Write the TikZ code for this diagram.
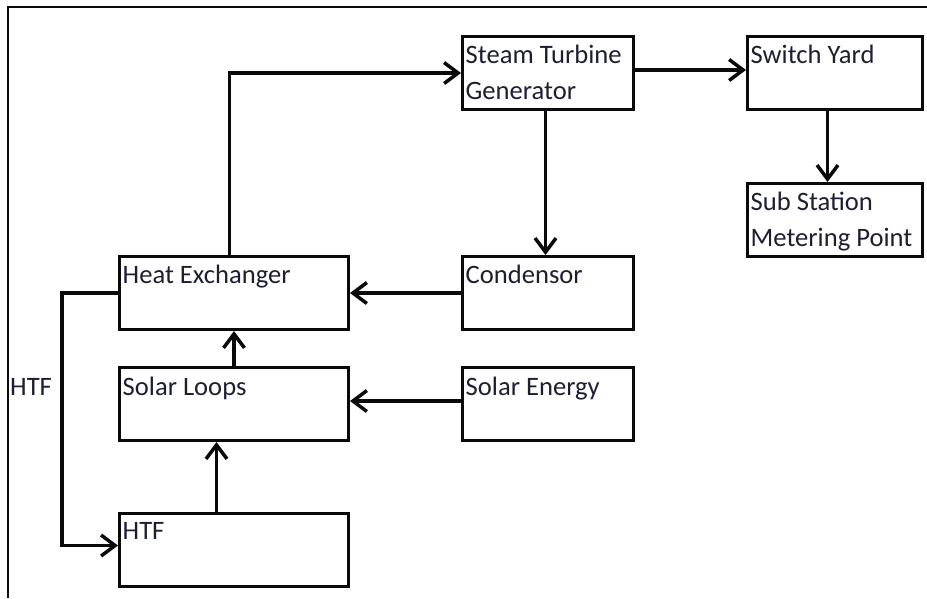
\documentclass[tikz,border=0pt]{standalone}
\usepackage{fontspec}
\setmainfont{Carlito}
\usetikzlibrary{arrows.meta, positioning, calc}
\definecolor{mydark}{RGB}{10,10,10}
\definecolor{mytext}{RGB}{30,30,50}
\newcommand{\boxfont}{\fontsize{26.6pt}{36pt}\selectfont}
\tikzset{
  block/.style={rectangle, draw=mydark, line width=3pt, anchor=north west,
    inner sep=0pt, minimum height=73pt},
  boxtext/.style={inner sep=0pt, align=left, font=\boxfont, text=mytext},
  arrow/.style={-{Straight Barb[length=14pt, width=21pt]}, line width=3.5pt, color=mydark},
  frame/.style={line width=2.2pt, color=mydark}
}

\begin{document}
\begin{tikzpicture}[x=1pt, y=-1pt]
  \useasboundingbox (0,0) rectangle (927,598);

  % Frame
  \draw[frame] (927,7) -- (8,7) -- (8,598);

  % Boxes
  \node[block, minimum width=171pt] (stg) at (461,35) {};
  \node[block, minimum width=175pt] (sy) at (746,35) {};
  \node[block, minimum width=175pt] (ss) at (746,182) {};
  \node[block, minimum width=171pt] (cond) at (461,255) {};
  \node[block, minimum width=229pt] (hx) at (118,255) {};
  \node[block, minimum width=229pt] (sl) at (118,366) {};
  \node[block, minimum width=171pt] (se) at (461,366) {};
  \node[block, minimum width=229pt] (htf) at (118,512) {};

  % Box texts
  \node[boxtext, below right=2.8pt and 4.5pt of stg.north west] (stgtext) {\strut Steam Turbine\\Generator};
  \node[boxtext, below right=2.8pt and 4.5pt of sy.north west] (sytext) {\strut Switch Yard};
  \node[boxtext, below right=2.8pt and 4.5pt of ss.north west] (sstext) {\strut Sub Station\\Metering Point};
  \node[boxtext, below right=2.8pt and 4.5pt of cond.north west] (condtext) {\strut Condensor};
  \node[boxtext, below right=2.8pt and 4.5pt of hx.north west] (hxtext) {\strut Heat Exchanger};
  \node[boxtext, below right=3.8pt and 4.5pt of sl.north west] (sltext) {\strut Solar Loops};
  \node[boxtext, below right=3.8pt and 4.5pt of se.north west] (setext) {\strut Solar Energy};
  \node[boxtext, below right=1.8pt and 4.5pt of htf.north west] (htftext) {\strut HTF};

  % Connectors
  \draw[arrow] ([xshift=-4.5pt]hx.north) |- (stg.west);
  \draw[arrow] ([yshift=3pt]stg.east) -- ([yshift=3pt]sy.west);
  \draw[arrow] ([xshift=-2.5pt]stg.south) -- ([xshift=-2.5pt]cond.north);
  \draw[arrow] ([xshift=-7.5pt]sy.south) -- ([xshift=-7.5pt]ss.north);
  \draw[arrow] (cond.west) -- (hx.east);
  \draw[arrow] ([yshift=3pt]se.west) -- ([yshift=3pt]sl.east);
  \draw[arrow] (sl.north) -- (hx.south);
  \draw[arrow] ([xshift=-17.5pt]htf.north) -- ([xshift=-17.5pt]sl.south);
  \draw[arrow] (hx.west) -- ++(-56,0) |- ([yshift=4.5pt]htf.west);
  \node[boxtext, anchor=base west] (htflabel) at (10,395) {HTF};
\end{tikzpicture}
\end{document}
